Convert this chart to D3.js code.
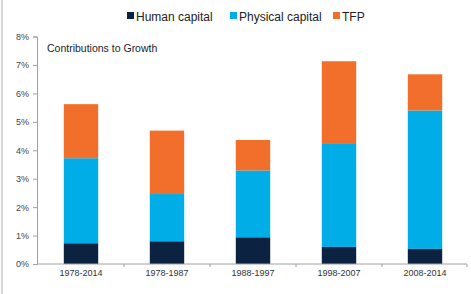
<!DOCTYPE html>
<html><head><meta charset="utf-8">
<script src="https://cdn.jsdelivr.net/npm/d3@7"></script>
<style>body{margin:0;background:#fff;}svg{display:block;font-family:"Liberation Sans",Arial,sans-serif;}</style>
</head><body>
<svg id="c" width="471" height="294"></svg>
<script>
const categories = ["1978-2014","1978-1987","1988-1997","1998-2007","2008-2014"];
const humanCapital = [0.73, 0.80, 0.94, 0.60, 0.53];
const physicalCapital = [2.99, 1.66, 2.35, 3.65, 4.87];
const tfp = [1.90, 2.23, 1.07, 2.88, 1.27];
const seriesNames = ["Human capital","Physical capital","TFP"];
const seriesColors = ["#0b2341","#00ade6","#f26f2b"];
const yTicks = [0,1,2,3,4,5,6,7,8];

const svg = d3.select("#c");
const x = d3.scaleBand().domain(categories).range([38, 468]).paddingInner(0.6).paddingOuter(0.3);
const y = d3.scaleLinear().domain([0, 8]).range([264, 36.5]);

// frame line at left
svg.append("line").attr("x1",2).attr("x2",2).attr("y1",0).attr("y2",294).attr("stroke","#c8c8c8").attr("stroke-width",1.5);

const table = categories.map((c,i)=>({cat:c, "Human capital":humanCapital[i], "Physical capital":physicalCapital[i], "TFP":tfp[i]}));
const stacked = d3.stack().keys(seriesNames)(table);
stacked.forEach((s,k)=>{
  svg.append("g").selectAll("rect").data(s).join("rect")
    .attr("x", d=>x(d.data.cat)).attr("width", x.bandwidth())
    .attr("y", d=>y(d[1])).attr("height", d=>y(d[0])-y(d[1]))
    .attr("fill", seriesColors[k]);
});

// y axis
const ya = svg.append("g").attr("transform","translate(37,0)")
  .call(d3.axisLeft(y).tickValues(yTicks).tickFormat(d=>d+"%").tickSize(4).tickPadding(4));
ya.select(".domain").attr("stroke","#a0a0a0");
ya.selectAll(".tick line").attr("stroke","#a0a0a0");
ya.selectAll("text").attr("fill","#444").attr("font-size","9px").attr("font-family","Liberation Sans, Arial, sans-serif");

// x axis
const xa = svg.append("g").attr("transform","translate(0,264)")
  .call(d3.axisBottom(x).tickSize(0).tickPadding(6).tickSizeOuter(0));
xa.select(".domain").attr("stroke","#a0a0a0").attr("d","M37,0H467");
xa.selectAll("text").attr("fill","#333").attr("font-size","9px").attr("font-family","Liberation Sans, Arial, sans-serif");
// boundary ticks
const step = x.step();
const bounds = categories.slice(1).map(c=>x(c)-x.paddingInner()*step/2).concat([467]);
svg.append("g").selectAll("line").data(bounds).join("line")
  .attr("x1",d=>d).attr("x2",d=>d).attr("y1",264).attr("y2",267).attr("stroke","#a0a0a0");

// title inside plot
svg.append("text").attr("x",47).attr("y",52).attr("font-size","10.5px").attr("fill","#222").text("Contributions to Growth");

// legend
const legendX = [127, 230, 333];
const lg = svg.append("g");
seriesNames.forEach((n,i)=>{
  lg.append("rect").attr("x",legendX[i]).attr("y",12).attr("width",7).attr("height",7).attr("fill",seriesColors[i]);
  lg.append("text").attr("x",legendX[i]+9).attr("y",20.5).attr("font-size","12px").attr("fill","#222").text(n);
});
</script>
</body></html>
